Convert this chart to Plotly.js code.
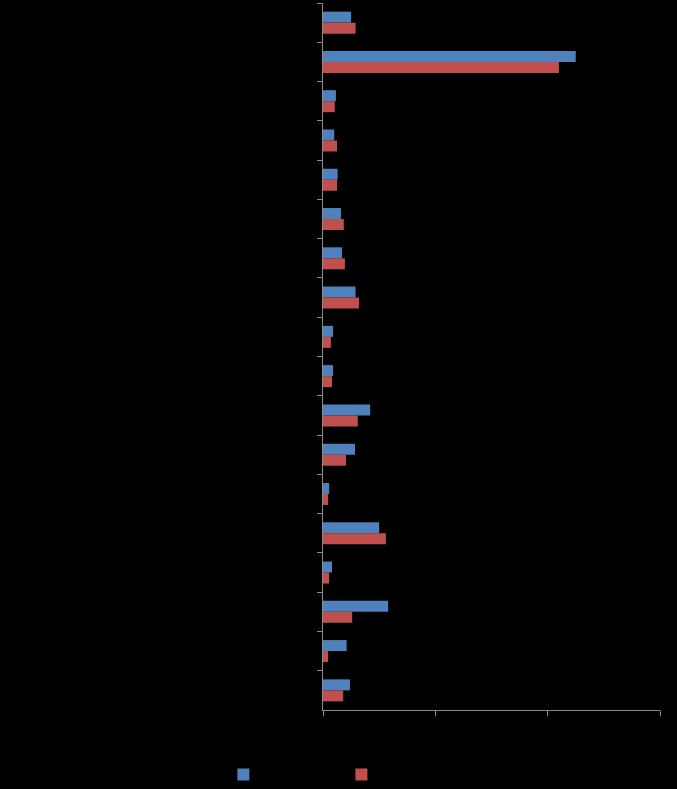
<!DOCTYPE html>
<html>
<head>
<meta charset="utf-8">
<script src="https://cdn.plot.ly/plotly-3.0.1.min.js"></script>
<style>html,body{margin:0;padding:0;background:#000;}#chart{width:677px;height:789px;}</style>
</head>
<body>
<div id="chart"></div>
<script>
// Category labels are drawn black-on-black in the reference (unreadable), placeholders kept as real text
const categories = ["Category 1","Category 2","Category 3","Category 4","Category 5","Category 6",
  "Category 7","Category 8","Category 9","Category 10","Category 11","Category 12",
  "Category 13","Category 14","Category 15","Category 16","Category 17","Category 18"];
const seriesNames = ["Series 1","Series 2"];
const series1 = [2.5, 22.5, 1.15, 1.0, 1.3, 1.6, 1.7, 2.9, 0.9, 0.9, 4.2, 2.85, 0.55, 5.0, 0.8, 5.8, 2.1, 2.4];
const series2 = [2.9, 21.0, 1.05, 1.25, 1.25, 1.85, 1.95, 3.2, 0.7, 0.8, 3.1, 2.05, 0.45, 5.6, 0.55, 2.6, 0.45, 1.8];
const xTicks = [0, 10, 20, 30];

const traces = [
  {type:"bar", orientation:"h", name:seriesNames[0], y:categories, x:series1, marker:{color:"#4F81BD", line:{width:0}}},
  {type:"bar", orientation:"h", name:seriesNames[1], y:categories, x:series2, marker:{color:"#C0504D", line:{width:0}}}
];
const layout = {
  width:677, height:789,
  paper_bgcolor:"#000", plot_bgcolor:"#000",
  font:{family:"Liberation Sans, Arial, sans-serif", size:12, color:"#000"},
  margin:{l:323, r:17, t:3, b:79, pad:0},
  barmode:"group", bargap:0.44, bargroupgap:0,
  showlegend:true,
  legend:{orientation:"h", xref:"container", yref:"container", x:0.33, y:0, xanchor:"left", yanchor:"bottom",
    entrywidth:73, entrywidthmode:"pixels",
    font:{color:"#000", size:6}, bgcolor:"rgba(0,0,0,0)"},
  xaxis:{range:[0,30], tickvals:xTicks, showgrid:false, zeroline:false, showline:true, linecolor:"#8c8c8c", linewidth:1,
    ticks:"outside", ticklen:5, tickcolor:"#8c8c8c", tickfont:{color:"#000"}},
  yaxis:{type:"category", autorange:"reversed", showgrid:false, zeroline:false, showline:true, linecolor:"#8c8c8c", linewidth:1,
    ticks:"outside", ticklen:5, tickcolor:"#8c8c8c", tickson:"boundaries", tickfont:{color:"#000"}}
};
Plotly.newPlot("chart", traces, layout, {displayModeBar:false, staticPlot:true});
</script>
</body>
</html>
